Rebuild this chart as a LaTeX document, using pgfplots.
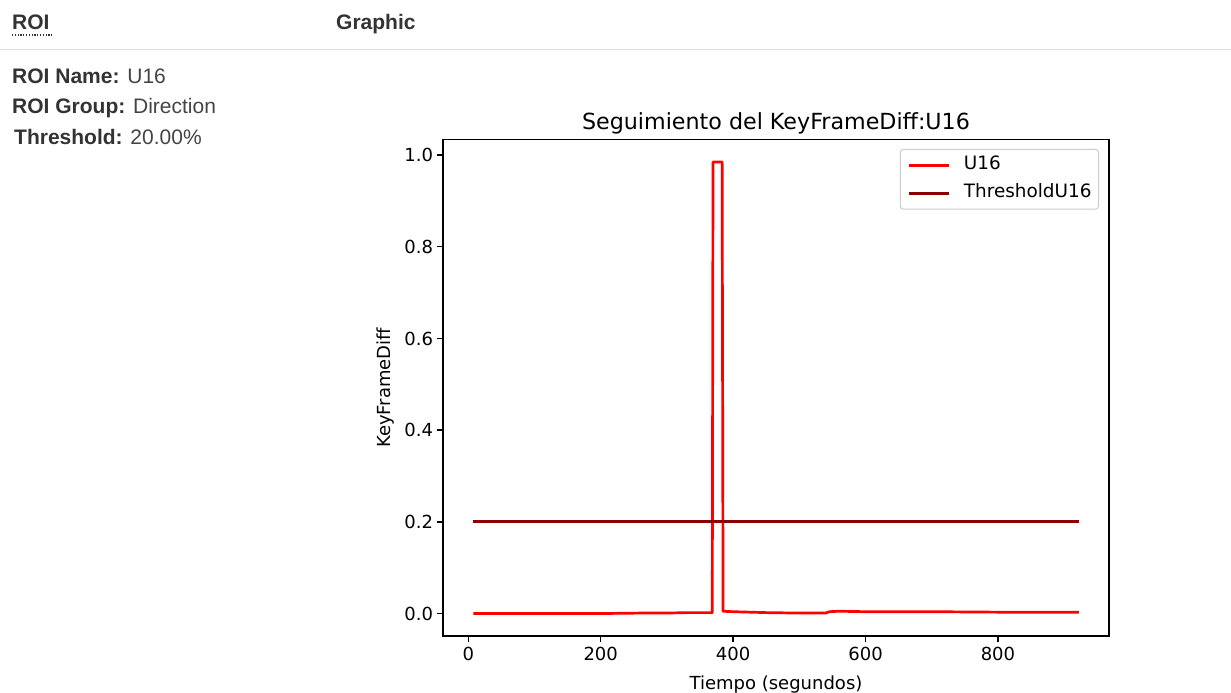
\documentclass[border=0pt]{standalone}
\usepackage{pgfplots}
\pgfplotsset{compat=1.18}
\usepackage{fontspec}
\setmainfont{Liberation Sans}
\newfontfamily\dejavu{DejaVu Sans}
\definecolor{webtext}{HTML}{333333}
\definecolor{webval}{HTML}{444444}
\definecolor{rule}{HTML}{E0E0E0}
\definecolor{mplred}{HTML}{FF0000}
\definecolor{mpldarkred}{HTML}{8B0000}
\newcommand{\chartfont}{\dejavu\fontsize{18}{21}\selectfont}
\newcommand{\legfont}{\dejavu\fontsize{18.4}{21}\selectfont}
\newcommand{\webfont}{\fontsize{21}{24}\selectfont}
\begin{document}
\begin{tikzpicture}[x=1pt,y=1pt]
\path[use as bounding box] (0,0) rectangle (1231,693);
% page header
\node[anchor=base west, inner sep=0, text=webtext, font=\webfont\bfseries] at (12,663) {ROI};
\draw[webtext, line width=1.2pt, dash pattern=on 1.2pt off 1.6pt] (12,658) -- (52,658);
\node[anchor=base west, inner sep=0, text=webtext, font=\webfont\bfseries] at (336,663) {Graphic};
\draw[rule, line width=1.5pt] (0,643.5) -- (1231,643.5);
\node[anchor=base west, inner sep=0, font=\webfont] at (12,609.5) {\textcolor{webtext}{\bfseries ROI Name:} \textcolor{webval}{U16}};
\node[anchor=base west, inner sep=0, font=\webfont] at (12,579.5) {\textcolor{webtext}{\bfseries ROI Group:} \textcolor{webval}{Direction}};
\node[anchor=base west, inner sep=0, font=\webfont] at (14,548.5) {\textcolor{webtext}{\bfseries Threshold:} \textcolor{webval}{20.00\%}};
\begin{axis}[
  at={(443pt,57pt)}, anchor=south west,
  width=666pt, height=496.5pt, scale only axis,
  xmin=-38.2, xmax=967.7, ymin=-0.049, ymax=1.034,
  xtick={0,200,400,600,800},
  ytick={0,0.2,0.4,0.6,0.8,1.0},
  tick pos=left, tick align=outside,
  major tick length=6.4pt,
  every tick/.style={black, line width=1.4pt},
  axis line style={line width=1.4pt},
  tick label style={font=\chartfont},
  /pgf/number format/assume math mode=true,
  yticklabel style={/pgf/number format/.cd, fixed, fixed zerofill, precision=1},
  xticklabel style={yshift=-1pt},
  xlabel={Tiempo (segundos)},
  ylabel={KeyFrameDiff},
  label style={font=\chartfont},
  xlabel style={at={(axis description cs:0.5,-0.1071)}, anchor=base},
  ylabel style={at={(axis description cs:-0.0795,0.5)}, anchor=base},
  title={Seguimiento del KeyFrameDiff:U16},
  title style={font=\dejavu\fontsize{22.2}{26}\selectfont, at={(axis description cs:0.5,1.009)}, anchor=base},
  legend image code/.code={\draw[#1] (0pt,0pt) -- (40pt,0pt);},
  legend style={at={(axis description cs:0.985,0.981)}, anchor=north east,
    draw=black!20, line width=1pt, rounded corners=3pt, fill=white, fill opacity=0.8, text opacity=1,
    font=\legfont, inner xsep=7pt, inner ysep=7pt, row sep=10.3pt,
    nodes={inner sep=0pt, text height=13.4pt, text depth=4.3pt},
    /tikz/every odd column/.style={column sep=14pt}},
  legend cell align=left,
]
\addplot[mplred, line width=2.7pt, line join=round] coordinates {
(7.5,0.000) (60,0.000) (120,0.000) (200,0.000) (260,0.001) (300,0.001)
(330,0.002) (368.5,0.002) (369.6,0.985) (383.4,0.985) (384.8,0.005)
(400,0.004) (450,0.002) (500,0.001) (540,0.001) (545,0.004) (560,0.005)
(600,0.004) (700,0.004) (800,0.003) (922,0.003)
};
\addlegendentry{U16}
\addplot[mpldarkred, line width=2.7pt] coordinates {(7.5,0.2) (922,0.2)};
\addlegendentry{ThresholdU16}
\end{axis}
\end{tikzpicture}
\end{document}
